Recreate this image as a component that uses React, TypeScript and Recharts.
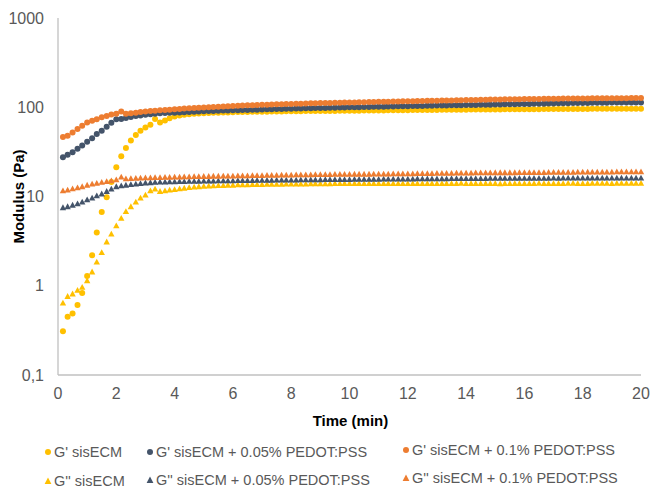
import React from 'react';
import { ScatterChart, Scatter, XAxis, YAxis, Label } from 'recharts';

const TIME = [
  0.17, 0.33, 0.5, 0.67, 0.83, 1, 1.17, 1.33, 1.5, 1.67, 1.83, 2,
  2.17, 2.33, 2.5, 2.67, 2.83, 3, 3.17, 3.33, 3.5, 3.67, 3.83, 4,
  4.17, 4.33, 4.5, 4.67, 4.83, 5, 5.17, 5.33, 5.5, 5.67, 5.83, 6,
  6.17, 6.33, 6.5, 6.67, 6.83, 7, 7.17, 7.33, 7.5, 7.67, 7.83, 8,
  8.17, 8.33, 8.5, 8.67, 8.83, 9, 9.17, 9.33, 9.5, 9.67, 9.83, 10,
  10.17, 10.33, 10.5, 10.67, 10.83, 11, 11.17, 11.33, 11.5, 11.67, 11.83, 12,
  12.17, 12.33, 12.5, 12.67, 12.83, 13, 13.17, 13.33, 13.5, 13.67, 13.83, 14,
  14.17, 14.33, 14.5, 14.67, 14.83, 15, 15.17, 15.33, 15.5, 15.67, 15.83, 16,
  16.17, 16.33, 16.5, 16.67, 16.83, 17, 17.17, 17.33, 17.5, 17.67, 17.83, 18,
  18.17, 18.33, 18.5, 18.67, 18.83, 19, 19.17, 19.33, 19.5, 19.67, 19.83, 20,
];

// G' sisECM
const G1_SIS = [
  0.31, 0.45, 0.49, 0.61, 0.83, 1.29, 2.2, 3.95, 6.7, 9.8, 14.5, 21.3,
  28.3, 35, 42.4, 49, 54.4, 59.3, 63.5, 74, 67.4, 71, 75.5, 79,
  81, 82.5, 83.5, 84.5, 85, 85.5, 86, 86.5, 87, 87.3, 87.6, 88,
  88.2, 88.4, 88.6, 88.8, 89, 89.2, 89.3, 89.5, 89.6, 89.8, 90, 90.1,
  90.2, 90.3, 90.5, 90.6, 90.7, 90.8, 90.9, 91, 91, 91.2, 91.3, 91.4,
  91.5, 91.6, 91.8, 91.9, 92, 92.1, 92.2, 92.4, 92.5, 92.6, 92.7, 92.8,
  92.9, 93, 93.1, 93.2, 93.3, 93.4, 93.5, 93.6, 93.7, 93.8, 93.9, 94,
  94.1, 94.2, 94.3, 94.3, 94.4, 94.5, 94.6, 94.7, 94.8, 94.8, 94.9, 95,
  95.1, 95.1, 95.2, 95.3, 95.3, 95.4, 95.5, 95.5, 95.6, 95.7, 95.7, 95.8,
  95.8, 95.9, 95.9, 96, 96, 96.1, 96.1, 96.2, 96.2, 96.3, 96.3, 96.4,
];

// G' sisECM + 0.05% PEDOT:PSS
const G1_005 = [
  27.6, 29.3, 31.4, 34.2, 37.2, 41, 45, 50, 54.4, 60.3, 66.9, 73.6,
  74, 76, 78, 80, 81, 82.5, 83.5, 84.5, 85.5, 86, 86.5, 87,
  87.5, 88, 88.5, 89, 89.5, 90, 90.5, 91, 91.3, 91.7, 92, 92.4,
  92.7, 93, 93.3, 93.7, 94, 94.3, 94.7, 95, 95.3, 95.6, 96, 96.3,
  96.6, 96.9, 97.2, 97.5, 97.8, 98.1, 98.4, 98.7, 99, 99.2, 99.5, 99.8,
  100, 100.3, 100.6, 100.8, 101, 101.3, 101.6, 101.8, 102, 102.3, 102.6, 102.8,
  103, 103.3, 103.6, 103.8, 104, 104.3, 104.6, 104.8, 105, 105.3, 105.6, 105.8,
  106, 106.3, 106.6, 106.8, 107, 107.3, 107.6, 107.8, 108, 108.3, 108.6, 108.8,
  109, 109.3, 109.6, 109.8, 110, 110.3, 110.6, 110.8, 111, 111.3, 111.5, 111.7,
  111.9, 112.1, 112.3, 112.5, 112.6, 112.7, 112.8, 112.9, 113, 113, 113.1, 113.2,
];

// G' sisECM + 0.1% PEDOT:PSS
const G1_01 = [
  46.3, 47.9, 52, 56.9, 61.9, 67.4, 70.4, 73.6, 77.5, 80, 82.9, 84.5,
  89.5, 84.4, 85.6, 87, 88.5, 89.5, 90.5, 91.5, 92.3, 93, 94, 95,
  95.8, 96.6, 97.4, 98.1, 98.8, 99.5, 100.2, 100.9, 101.6, 102.2, 102.9, 103.5,
  104, 104.5, 105, 105.5, 106, 106.5, 107, 107.4, 107.8, 108.2, 108.6, 109,
  109.4, 109.8, 110.2, 110.6, 111, 111.3, 111.6, 111.9, 112.2, 112.5, 112.8, 113.1,
  113.4, 113.7, 114, 114.3, 114.6, 114.9, 115.2, 115.5, 115.8, 116.1, 116.4, 116.7,
  117, 117.3, 117.6, 117.9, 118.2, 118.5, 118.8, 119.1, 119.4, 119.7, 120, 120.3,
  120.6, 120.9, 121.2, 121.5, 121.8, 122, 122.3, 122.6, 122.8, 123, 123.3, 123.5,
  123.7, 123.9, 124.1, 124.3, 124.5, 124.7, 124.9, 125.1, 125.3, 125.4, 125.5, 125.6,
  125.7, 125.8, 125.9, 126, 126.1, 126.2, 126.3, 126.4, 126.5, 126.6, 126.7, 126.8,
];

// G'' sisECM
const G2_SIS = [
  0.64, 0.76, 0.81, 0.89, 0.96, 1.14, 1.43, 1.84, 2.36, 3.1, 3.8, 4.7,
  5.7, 6.8, 7.7, 8.65, 9.6, 10.4, 11.6, 12.1, 11.4, 11.6, 11.8, 12,
  12.2, 12.4, 12.6, 12.8, 12.9, 13, 13.1, 13.2, 13.3, 13.3, 13.4, 13.4,
  13.5, 13.5, 13.5, 13.6, 13.6, 13.6, 13.7, 13.7, 13.7, 13.7, 13.8, 13.8,
  13.8, 13.8, 13.8, 13.9, 13.9, 13.9, 13.9, 13.9, 14, 14, 14, 14,
  14, 14, 14, 14, 14, 14, 14, 14, 14, 14, 14, 14,
  14, 14, 14, 14, 14, 14, 14, 14, 14, 14, 14.1, 14,
  14, 14, 14, 14, 14, 14, 13.9, 14, 14, 14, 14, 14,
  14, 14, 14.1, 14, 14, 14, 14, 14, 14.1, 14.1, 14, 14,
  14, 14.1, 14.1, 14.1, 14.1, 14, 14.1, 14.1, 14.1, 14.1, 14.1, 14.1,
];

// G'' sisECM + 0.05% PEDOT:PSS
const G2_005 = [
  7.5, 7.7, 8, 8.3, 8.65, 9.2, 9.6, 10.2, 10.7, 11.4, 12.1, 12.9,
  13.2, 13.4, 13.6, 13.8, 14, 14.2, 14.3, 14.4, 14.5, 14.5, 14.6, 14.6,
  14.7, 14.7, 14.8, 14.8, 14.8, 14.9, 14.9, 14.9, 15, 15, 15, 15,
  15.1, 15.1, 15.1, 15.1, 15.2, 15.2, 15.2, 15.2, 15.3, 15.3, 15.3, 15.3,
  15.3, 15.4, 15.4, 15.4, 15.4, 15.4, 15.5, 15.5, 15.5, 15.5, 15.5, 15.5,
  15.6, 15.6, 15.6, 15.6, 15.6, 15.6, 15.7, 15.7, 15.7, 15.7, 15.7, 15.7,
  15.7, 15.8, 15.8, 15.8, 15.8, 15.8, 15.8, 15.8, 15.9, 15.9, 15.9, 15.9,
  15.9, 15.9, 15.9, 15.9, 16, 16, 16, 16, 16, 16, 16, 16,
  16, 16, 16, 16, 16, 16.1, 16, 16.1, 16.1, 16.1, 16.1, 16.1,
  16.1, 16.1, 16.1, 16.1, 16.1, 16.1, 16.1, 16.1, 16.1, 16.1, 16.1, 16.1,
];

// G'' sisECM + 0.1% PEDOT:PSS
const G2_01 = [
  11.6, 11.8, 12.2, 12.5, 12.9, 13.4, 13.8, 14.1, 14.4, 14.7, 15, 15.4,
  16.5, 15.8, 15.9, 16, 16.1, 16.2, 16.2, 16.3, 16.3, 16.4, 16.4, 16.5,
  16.5, 16.6, 16.6, 16.7, 16.7, 16.8, 16.8, 16.9, 16.9, 17, 17, 17,
  17.1, 17.1, 17.1, 17.2, 17.2, 17.2, 17.3, 17.3, 17.3, 17.4, 17.4, 17.4,
  17.5, 17.5, 17.5, 17.5, 17.6, 17.6, 17.6, 17.6, 17.7, 17.7, 17.7, 17.7,
  17.8, 17.8, 17.8, 17.8, 17.9, 17.9, 17.9, 17.9, 18, 18, 18, 18,
  18, 18.1, 18.1, 18.1, 18.1, 18.2, 18.2, 18.2, 18.2, 18.3, 18.3, 18.3,
  18.3, 18.4, 18.4, 18.4, 18.4, 18.5, 18.5, 18.5, 18.5, 18.5, 18.6, 18.6,
  18.6, 18.6, 18.6, 18.6, 18.7, 18.7, 18.7, 18.7, 18.7, 18.7, 18.8, 18.8,
  18.8, 18.8, 18.8, 18.8, 18.8, 18.8, 18.9, 18.9, 18.9, 18.9, 18.9, 18.9,
];

const X_TICKS = [0, 2, 4, 6, 8, 10, 12, 14, 16, 18, 20];
const Y_TICKS = [0.1, 1, 10, 100, 1000];

const YELLOW = '#FFC000';
const SLATE = '#44546A';
const ORANGE = '#ED7D31';

type Series = { name: string; values: number[]; color: string; kind: 'circle' | 'triangle' };

const SERIES: Series[] = [
  { name: "G' sisECM", values: G1_SIS, color: YELLOW, kind: 'circle' },
  { name: "G' sisECM + 0.05% PEDOT:PSS", values: G1_005, color: SLATE, kind: 'circle' },
  { name: "G' sisECM + 0.1% PEDOT:PSS", values: G1_01, color: ORANGE, kind: 'circle' },
  { name: "G'' sisECM", values: G2_SIS, color: YELLOW, kind: 'triangle' },
  { name: "G'' sisECM + 0.05% PEDOT:PSS", values: G2_005, color: SLATE, kind: 'triangle' },
  { name: "G'' sisECM + 0.1% PEDOT:PSS", values: G2_01, color: ORANGE, kind: 'triangle' },
];

const FONT = '"Liberation Sans", Arial, Helvetica, sans-serif';

const circleShape = (color: string) => (p: any) => (
  <circle cx={p.cx} cy={p.cy} r={3} fill={color} />
);
const triangleShape = (color: string) => (p: any) => (
  <path
    d={`M${p.cx},${p.cy - 3.3} L${p.cx + 3.2},${p.cy + 2.5} L${p.cx - 3.2},${p.cy + 2.5} Z`}
    fill={color}
  />
);

const fmtY = (v: number) => (v < 1 ? '0,1' : String(Math.round(v)));

// legend layout: left of marker, top (page coordinates, body margin removed)
const LEGEND_POS = [
  { x: 44, y: 443 },
  { x: 146, y: 443 },
  { x: 402, y: 441 },
  { x: 44, y: 472 },
  { x: 146, y: 471 },
  { x: 402, y: 469 },
];

export default function App() {
  return (
    <div style={{ position: 'relative', width: 654, height: 488, fontFamily: FONT, overflow: 'hidden' }}>
      <style>{'html, body { margin: 0; padding: 0; overflow: hidden; }'}</style>
      <ScatterChart
        width={654}
        height={488}
        margin={{ top: 18, right: 13, bottom: 53, left: 8 }}
        style={{ fontFamily: FONT }}
      >
        <XAxis
          dataKey="t"
          type="number"
          domain={[0, 20]}
          ticks={X_TICKS}
          interval={0}
          tickLine={false}
          tickSize={0}
          tickMargin={13}
          axisLine={{ stroke: '#c0c0c0', strokeWidth: 1.3 }}
          tick={{ fill: '#595959', fontSize: 16 }}
          height={60}
        >
          <Label
            content={(props: any) => {
              const vb = props.viewBox || {};
              return (
                <text
                  x={vb.x + vb.width / 2 + 1}
                  y={vb.y + 51}
                  textAnchor="middle"
                  fontWeight="bold"
                  fontSize={15}
                  fill="#000"
                >
                  Time (min)
                </text>
              );
            }}
          />
        </XAxis>
        <YAxis
          dataKey="v"
          type="number"
          scale="log"
          domain={[0.1, 1000]}
          ticks={Y_TICKS}
          interval={0}
          allowDataOverflow
          tickLine={false}
          tickSize={0}
          tickMargin={14}
          axisLine={{ stroke: '#c0c0c0', strokeWidth: 1.3 }}
          tick={{ fill: '#595959', fontSize: 16 }}
          tickFormatter={fmtY}
          width={50}
        >
          <Label
            content={(props: any) => {
              const vb = props.viewBox || {};
              const cx = 18.5;
              const cy = vb.y + vb.height / 2;
              return (
                <text
                  x={cx}
                  y={cy}
                  transform={`rotate(-90, ${cx}, ${cy})`}
                  textAnchor="middle"
                  dominantBaseline="central"
                  fontWeight="bold"
                  fontSize={15}
                  fill="#000"
                >
                  Modulus (Pa)
                </text>
              );
            }}
          />
        </YAxis>
        {SERIES.map((s) => (
          <Scatter
            key={s.name}
            name={s.name}
            data={TIME.map((t, i) => ({ t, v: s.values[i] }))}
            fill={s.color}
            shape={s.kind === 'circle' ? circleShape(s.color) : triangleShape(s.color)}
            isAnimationActive={false}
          />
        ))}
      </ScatterChart>
      {SERIES.map((s, i) => (
        <div
          key={s.name}
          style={{
            position: 'absolute',
            left: LEGEND_POS[i].x,
            top: LEGEND_POS[i].y,
            height: 18,
            lineHeight: '18px',
            fontSize: 14.5,
            color: '#595959',
            whiteSpace: 'nowrap',
            display: 'flex',
            alignItems: 'center',
          }}
        >
          <svg width={8} height={8} style={{ marginRight: 2 }}>
            {s.kind === 'circle' ? (
              <circle cx={4} cy={4} r={3} fill={s.color} />
            ) : (
              <path d="M4,0.6 L7.4,7 L0.6,7 Z" fill={s.color} />
            )}
          </svg>
          <span>{s.name}</span>
        </div>
      ))}
    </div>
  );
}
